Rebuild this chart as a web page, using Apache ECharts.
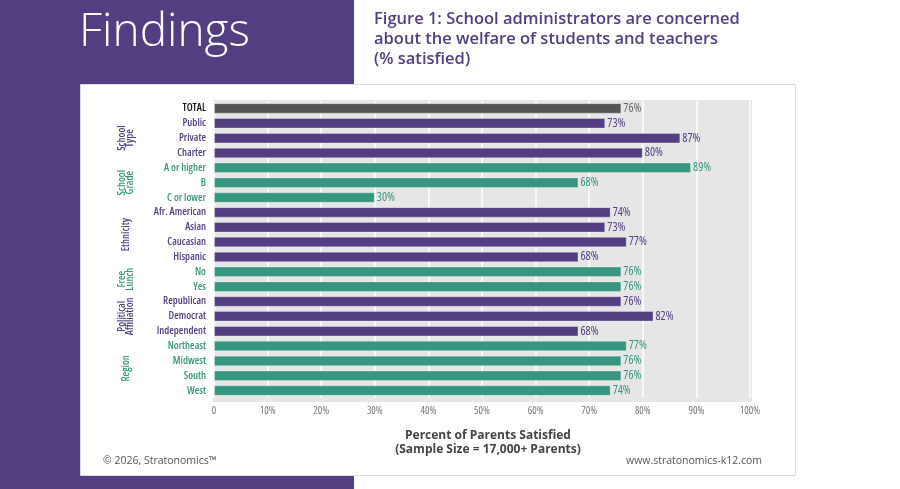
<!DOCTYPE html>
<html>
<head>
<meta charset="utf-8">
<script src="https://cdn.jsdelivr.net/npm/echarts@6/dist/echarts.min.js"></script>
<style>
  html, body { margin: 0; padding: 0; background: #fff; }
  #chart { width: 900px; height: 489px; }
</style>
</head>
<body>
<div id="chart"></div>
<script>
// 資料
const categories = [
  "TOTAL", "Public", "Private", "Charter", "A or higher", "B", "C or lower",
  "Afr. American", "Asian", "Caucasian", "Hispanic", "No", "Yes",
  "Republican", "Democrat", "Independent", "Northeast", "Midwest", "South", "West"
];
const satisfied = [76, 73, 87, 80, 89, 68, 30, 74, 73, 77, 68, 76, 76, 76, 82, 68, 77, 76, 76, 74];
// 每列所屬的分組 (0 = TOTAL)
const groupIndex = [0, 1, 1, 1, 2, 2, 2, 3, 3, 3, 3, 4, 4, 5, 5, 5, 6, 6, 6, 6];
const groupNames = ["", "School\nType", "School\nGrade", "Ethnicity", "Free\nLunch", "Political\nAffiliation", "Region"];
const xTicks = [0, 10, 20, 30, 40, 50, 60, 70, 80, 90, 100];

const headerTitle = "Findings";
const figureTitle = "Figure 1: School administrators are concerned\nabout the welfare of students and teachers\n(% satisfied)";
const axisTitle = "Percent of Parents Satisfied\n(Sample Size = 17,000+ Parents)";
const copyright = "© 2026, Stratonomics™";
const website = "www.stratonomics-k12.com";

const PURPLE = "#523e80";
const GREEN = "#37967f";
const SANS = "'Open Sans', sans-serif";

function groupColor(g) {
  if (g === 0) return "#555555";
  return g % 2 === 1 ? PURPLE : GREEN;
}
function labelColor(i) {
  if (groupIndex[i] === 0) return "#111";
  return groupColor(groupIndex[i]);
}

const chartDOM = document.getElementById("chart");
const chart = echarts.init(chartDOM, null, { renderer: "canvas" });

const chartOption = {
  animation: false,
  grid: { left: 214, right: 150, top: 101, bottom: 91 },
  xAxis: {
    type: "value",
    min: xTicks[0],
    max: xTicks[xTicks.length - 1],
    interval: 10,
    axisLine: { show: false },
    axisTick: { show: false },
    splitLine: { show: true, lineStyle: { color: "#ffffff", width: 1.5 } },
    axisLabel: {
      color: "#777",
      fontFamily: SANS,
      fontWeight: "normal condensed",
      fontSize: 10.5,
      margin: 8,
      formatter: (v) => (v === 0 ? "0" : v + "%"),
    },
  },
  yAxis: {
    type: "category",
    data: categories,
    inverse: true,
    axisLine: { show: false },
    axisTick: { show: false },
    axisLabel: {
      fontFamily: SANS,
      fontSize: 10.5,
      fontWeight: "600 condensed",
      margin: 8,
      color: (value, index) => labelColor(index),
    },
  },
  series: [
    {
      type: "bar",
      barWidth: 10.5,
      data: satisfied.map((v, i) => {
        const c = groupColor(groupIndex[i]);
        return {
          value: v,
          itemStyle: { color: c },
          label: { color: groupIndex[i] === 0 ? "#666" : c },
        };
      }),
      itemStyle: { borderColor: "rgba(255,255,255,0.3)", borderWidth: 1 },
      label: {
        show: true,
        position: "right",
        distance: 2,
        fontFamily: SANS,
        fontWeight: "normal condensed",
        fontSize: 12,
        formatter: "{c}%",
      },
    },
  ],
  graphic: [
    { id: "bgPurple", type: "rect", z: -20, shape: { x: 0, y: 0, width: 354, height: 489 }, style: { fill: PURPLE } },
    { id: "panel", type: "rect", z: -19, shape: { x: 80.5, y: 84.5, width: 715, height: 391 }, style: { fill: "#fff", stroke: "#dcdcdc", lineWidth: 1 } },
    { id: "plotBg", type: "rect", z: -18, shape: { x: 213, y: 100, width: 539, height: 302 }, style: { fill: "#e6e6e6" } },
    { id: "findings", type: "text", left: 79, top: 10, style: { text: headerTitle, fill: "#fff", font: "300 46px " + SANS } },
    { id: "figTitle", type: "text", left: 374, top: 9, style: { text: figureTitle, fill: PURPLE, font: "600 16.5px " + SANS, lineHeight: 20 } },
    { id: "axisTitle", type: "text", x: 488, y: 428, style: { text: axisTitle, fill: "#444", font: "bold 12px " + SANS, lineHeight: 14.5, textAlign: "center" } },
    { id: "copy", type: "text", left: 103, top: 456, style: { text: copyright, fill: "#555", font: "10.5px " + SANS } },
    { id: "web", type: "text", right: 138, top: 456, style: { text: website, fill: "#555", font: "10.5px " + SANS } },
  ],
};
chart.setOption(chartOption);

// 分組標籤: 依照類別軸位置置中
const groupGraphics = [];
for (let g = 1; g < groupNames.length; g++) {
  const idx = groupIndex.map((x, i) => (x === g ? i : -1)).filter((i) => i >= 0);
  const y1 = chart.convertToPixel({ yAxisIndex: 0 }, categories[idx[0]]);
  const y2 = chart.convertToPixel({ yAxisIndex: 0 }, categories[idx[idx.length - 1]]);
  groupGraphics.push({
    id: "group" + g,
    type: "text",
    x: 126,
    y: (y1 + y2) / 2,
    rotation: Math.PI / 2,
    style: {
      text: groupNames[g],
      fill: groupColor(g),
      font: "600 condensed 10.5px " + SANS,
      lineHeight: 8,
      textAlign: "center",
      textVerticalAlign: "middle",
    },
  });
}
chart.setOption({ graphic: groupGraphics });
</script>
</body>
</html>
